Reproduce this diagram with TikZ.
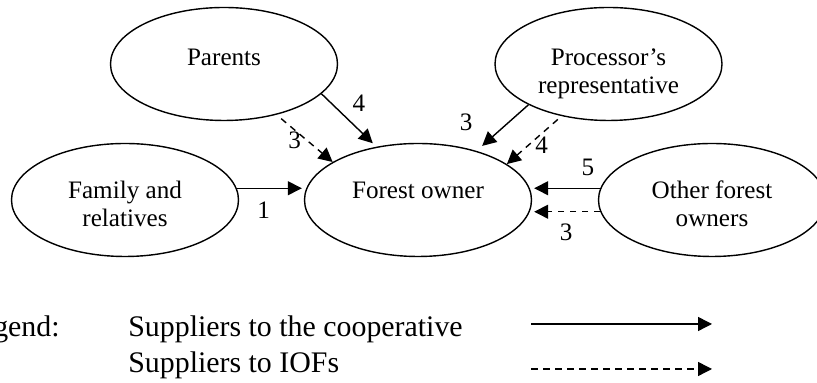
\documentclass[tikz,border=0pt]{standalone}
\usepackage{fontspec}
\setmainfont{Liberation Serif}
\usetikzlibrary{shapes.geometric,arrows.meta}

\tikzset{
	party/.style={draw, ellipse, line width=0.8pt, minimum width=4.54cm, minimum height=2.26cm, inner sep=0pt, align=center, font=\fontsize{14.3}{15.8}\selectfont},
	upper/.style={party, text height=0.33cm, text depth=0.28cm},
	lower/.style={party, text height=0.33cm, text depth=0.4cm},
	upper2/.style={party, text height=1.17cm, text depth=0cm},
	lower2/.style={party, text height=1.05cm, text depth=0cm},
	coop/.style={line width=0.8pt, -{Triangle[length=0.28cm,width=0.28cm]}},
	iof/.style={coop, dash pattern=on 0.13cm off 0.11cm},
	num/.style={font=\fontsize{14.3}{15.8}\selectfont},
	legtext/.style={font=\fontsize{17}{18.8}\selectfont, inner sep=0pt}
}

\begin{document}
\begin{tikzpicture}
\useasboundingbox (0,0) rectangle (16.34,7.66);
	\node[upper] (par) at (4.48,6.38) {Parents};
	\node[upper2] (proc) at (12.17,6.38) {Processor's\\representative};
	\node[lower2] (fam) at (2.5,3.66) {Family and\\relatives};
	\node[lower] (own) at (8.36,3.66) {Forest owner};
	\node[lower2] (oth) at (14.24,3.66) {Other forest\\owners};

	\draw[coop, shorten >=0.04cm] (fam.6) -- node[num, pos=0.4, below, yshift=-0.15cm] (n1) {1} (fam.6 -| own.west);
	\draw[coop, shorten >=0.1cm] (par.-17) -- node[num, pos=0.45, above right] (n4a) {4} (own.128);
	\draw[iof, shorten <=0.12cm] (par.-44) -- node[num, pos=0.55, left] (n3a) {3} (own.156);
	\draw[coop, shorten >=0.15cm] (proc.-153) -- node[num, pos=0.8, above left, xshift=-0.16cm, yshift=0.08cm] (n3b) {3} (own.40);
	\draw[iof, shorten <=0.1cm] (proc.-132) -- node[num, pos=0.6, right] (n4b) {4} (own.22);
	\draw[coop, shorten >=0.04cm] (oth.174) -- node[num, pos=0.18, above, yshift=0.12cm] (n5) {5} (oth.174 -| own.east);
	\draw[iof, shorten >=0.04cm] (oth.186) -- node[num, pos=0.5, below, yshift=-0.12cm] (n3c) {3} (oth.186 -| own.east);

	\node[legtext, anchor=base east] (leg) at (1.2,0.92) {Legend:};
	\node[legtext, anchor=base west] (coopkey) at (2.56,0.92) {Suppliers to the cooperative};
	\node[legtext, anchor=base west] (iofkey) at (2.56,0.2) {Suppliers to IOFs};
	\coordinate (c1) at (10.62,1.18);
	\coordinate (c2) at (14.24,1.18);
	\coordinate (i1) at (10.62,0.28);
	\coordinate (i2) at (14.24,0.28);
	\draw[coop] (c1) -- (c2);
	\draw[iof] (i1) -- (i2);
\end{tikzpicture}
\end{document}
